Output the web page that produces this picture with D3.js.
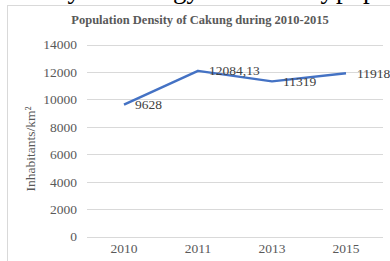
<!DOCTYPE html>
<html>
<head>
<meta charset="utf-8">
<script src="https://cdn.jsdelivr.net/npm/d3@7"></script>
<style>
body { margin: 0; background: #fff; }
svg { display: block; }
svg text { font-family: "Liberation Serif", serif; }
</style>
</head>
<body>
<div id="chart"></div>
<script>
var w = 390;
var h = 261;

// values
var years = ["2010", "2011", "2013", "2015"];
var density = [9628, 12084.13, 11319, 11918];
var pointLabels = ["9628", "12084,13", "11319", "11918"];
var yTicks = [0, 2000, 4000, 6000, 8000, 10000, 12000, 14000];

var svg = d3.select("#chart")
            .append("svg")
                .attr("width", w)
                .attr("height", h);

// clipped text of the document above the chart
var above = svg.append("g")
    .attr("font-size", 27)
    .attr("fill", "#000");
above.append("text").attr("x", 81).attr("y", -2.5).attr("text-anchor", "end").text("Study");
above.append("text").attr("x", 200).attr("y", -2.5).attr("text-anchor", "end").text("energy");
above.append("text").attr("x", 334).attr("y", -2.5).attr("text-anchor", "end").text("density");
above.append("text").attr("x", 336).attr("y", -2.5).text("population");

// chart frame
svg.append("rect")
    .attr("x", 7.5)
    .attr("y", 5.5)
    .attr("width", 400)
    .attr("height", 300)
    .attr("fill", "#fff")
    .attr("stroke", "#d9d9d9");

var x = d3.scaleBand()
    .domain(years)
    .range([87, 383]);

var y = d3.scaleLinear()
    .domain([0, 14000])
    .range([236.6, 44.6]);

// gridlines
svg.append("g")
    .selectAll("line")
    .data(yTicks)
    .enter()
        .append("line")
            .attr("x1", 87)
            .attr("x2", 383)
            .attr("y1", function(d) { return Math.round(y(d)) + 0.5; })
            .attr("y2", function(d) { return Math.round(y(d)) + 0.5; })
            .attr("stroke", "#d9d9d9")
            .attr("stroke-width", 1);

var yAxis = svg.append("g")
    .attr("transform", "translate(87,0)")
    .call(d3.axisLeft(y).tickValues(yTicks).tickSize(0).tickPadding(10).tickFormat(d3.format("d")));
yAxis.select(".domain").remove();
yAxis.selectAll("text")
    .attr("font-size", 13.5)
    .attr("fill", "#595959");

var xAxis = svg.append("g")
    .attr("transform", "translate(0,237)")
    .call(d3.axisBottom(x).tickSize(0).tickPadding(6));
xAxis.select(".domain").remove();
xAxis.selectAll("text")
    .attr("font-size", 13.5)
    .attr("fill", "#595959");

var pts = years.map(function(d, i) { return { year: d, value: density[i], label: pointLabels[i] }; });

var line = d3.line()
    .x(function(d) { return x(d.year) + x.bandwidth() / 2; })
    .y(function(d) { return y(d.value); });

svg.append("path")
    .datum(pts)
    .attr("d", line)
    .attr("fill", "none")
    .attr("stroke", "#4472c4")
    .attr("stroke-width", 2.5)
    .attr("stroke-linejoin", "round");

svg.append("g")
    .selectAll("text")
    .data(pts)
    .enter()
        .append("text")
            .attr("x", function(d) { return x(d.year) + x.bandwidth() / 2 + 11; })
            .attr("y", function(d) { return y(d.value) + 4.5; })
            .attr("font-size", 13.5)
            .attr("fill", "#404040")
            .text(function(d) { return d.label; });

// title
svg.append("text")
    .attr("x", 200)
    .attr("y", 24)
    .attr("text-anchor", "middle")
    .attr("font-size", 12.5)
    .attr("font-weight", "bold")
    .attr("fill", "#595959")
    .text("Population Density of Cakung during 2010-2015");

// y axis title
svg.append("text")
    .attr("transform", "translate(35,149) rotate(-90)")
    .attr("text-anchor", "middle")
    .attr("font-size", 13.5)
    .attr("fill", "#595959")
    .text("Inhabitants/km²");
</script>
</body>
</html>
